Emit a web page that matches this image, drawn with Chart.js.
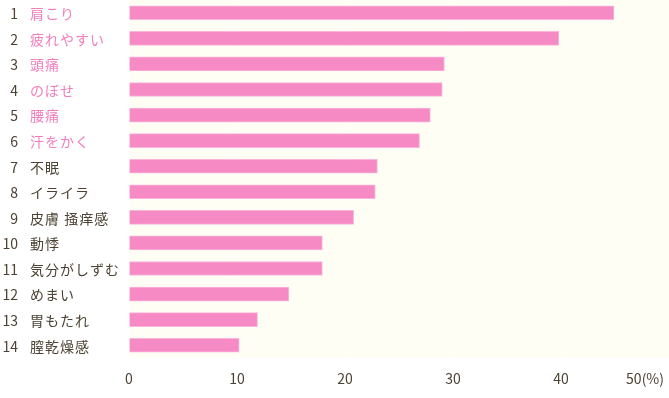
<!DOCTYPE html>
<html lang="ja">
<head>
    <meta charset="UTF-8">
    <title>症状ランキング</title>
    <script src="https://cdn.jsdelivr.net/npm/chart.js"></script>
    <style>
        body {
            margin: 0;
            background-color: #ffffff;
        }
        .chart-container {
            position: relative;
            width: 669px;
            height: 398px;
        }
    </style>
</head>
<body>
    <div class="chart-container">
        <canvas id="symptomChart"></canvas>
    </div>

    <script>
        const ranks = ['1', '2', '3', '4', '5', '6', '7', '8', '9', '10', '11', '12', '13', '14'];
        const symptoms = ['肩こり', '疲れやすい', '頭痛', 'のぼせ', '腰痛', '汗をかく', '不眠', 'イライラ',
                          '皮膚 掻痒感', '動悸', '気分がしずむ', 'めまい', '胃もたれ', '膣乾燥感'];
        const percents = [44.9, 39.8, 29.2, 29.0, 27.9, 26.9, 23.0, 22.8, 20.8, 17.9, 17.9, 14.8, 11.9, 10.2];
        const xTicks = [0, 10, 20, 30, 40, 50];
        const highlightCount = 6; // top 6 names are shown in pink

        const pink = '#f27ebd';
        const dark = '#4b4233';
        const font = '"Noto Sans CJK JP", "Noto Sans", sans-serif';

        // cream background behind the plot area + custom labels
        const labelPlugin = {
            id: 'labels',
            beforeDraw(chart) {
                const { ctx, chartArea } = chart;
                ctx.save();
                ctx.fillStyle = '#fffef4';
                ctx.fillRect(chartArea.left, chartArea.top, chartArea.right - chartArea.left, chartArea.bottom - chartArea.top);
                ctx.restore();
            },
            afterDraw(chart) {
                const { ctx, chartArea } = chart;
                const x = chart.scales.x;
                const y = chart.scales.y;
                ctx.save();
                ctx.font = '14px ' + font;
                ctx.textBaseline = 'middle';

                symptoms.forEach((name, i) => {
                    const py = y.getPixelForValue(i) + 1;
                    ctx.letterSpacing = '0px';
                    ctx.fillStyle = dark;
                    ctx.textAlign = 'right';
                    ctx.fillText(ranks[i], 18, py);
                    ctx.letterSpacing = '1px';
                    ctx.fillStyle = i < highlightCount ? pink : dark;
                    ctx.textAlign = 'left';
                    ctx.fillText(name, 30, py);
                });

                ctx.letterSpacing = '0px';
                const ty = chartArea.bottom + 21;
                xTicks.forEach((v, i) => {
                    ctx.fillStyle = dark;
                    if (i === xTicks.length - 1) {
                        ctx.textAlign = 'right';
                        ctx.fillText(v + '(%)', chartArea.right - 5, ty);
                    } else {
                        ctx.textAlign = 'center';
                        ctx.fillText(String(v), x.getPixelForValue(v), ty);
                    }
                });
                ctx.restore();
            }
        };

        const ctx = document.getElementById('symptomChart').getContext('2d');
        const chart = new Chart(ctx, {
            type: 'bar',
            data: {
                labels: symptoms,
                datasets: [{
                    data: percents,
                    backgroundColor: '#f68ac4',
                    borderColor: '#fab5da',
                    borderWidth: 1,
                    borderSkipped: 'start',
                    barThickness: 14
                }]
            },
            options: {
                indexAxis: 'y',
                responsive: true,
                maintainAspectRatio: false,
                animation: false,
                layout: {
                    padding: { left: 129, right: 0, top: 0, bottom: 40 }
                },
                plugins: {
                    legend: { display: false },
                    tooltip: { enabled: false }
                },
                scales: {
                    x: {
                        min: 0,
                        max: 50,
                        ticks: { display: false, stepSize: 10 },
                        grid: { color: '#ffffff', lineWidth: 1, drawTicks: false },
                        border: { display: false }
                    },
                    y: {
                        display: false
                    }
                }
            },
            plugins: [labelPlugin]
        });
    </script>
</body>
</html>
